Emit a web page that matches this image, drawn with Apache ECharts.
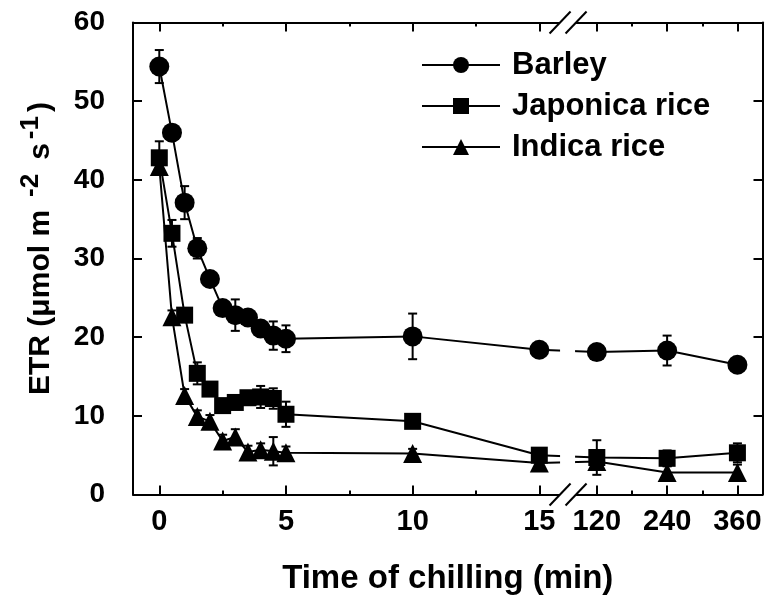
<!DOCTYPE html>
<html>
<head>
<meta charset="utf-8">
<script src="https://cdn.jsdelivr.net/npm/echarts@6/dist/echarts.min.js"></script>
<style>html,body{margin:0;padding:0;background:#fff}#c{width:769px;height:601px}</style>
</head>
<body>
<div id="c"></div>
<script>
// ---- data (time in minutes, ETR values) ----
const times = [0, 0.5, 1, 1.5, 2, 2.5, 3, 3.5, 4, 4.5, 5, 10, 15, 120, 240, 360];
const barley      = [54.4, 46.0, 37.1, 31.3, 27.4, 23.7, 22.8, 22.5, 21.1, 20.2, 19.8, 20.1, 18.4, 18.1, 18.3, 16.5];
const barleyErr   = [2.1, 0.8, 2.1, 1.3, 0.8, 0.8, 2.0, 0.8, 0.8, 1.8, 1.7, 2.9, 0.5, 0.5, 1.9, 0.5];
const japonica    = [42.8, 33.2, 22.8, 15.4, 13.4, 11.3, 11.7, 12.3, 12.4, 12.2, 10.2, 9.3, 5.0, 4.7, 4.6, 5.3];
const japonicaErr = [2.1, 1.7, 0.8, 1.4, 0.6, 0.6, 0.6, 0.8, 1.4, 1.3, 1.6, 0.6, 0.8, 2.2, 1.0, 1.2];
const indica      = [41.7, 22.6, 12.6, 9.9, 9.3, 6.8, 7.3, 5.4, 5.7, 5.5, 5.3, 5.2, 4.0, 4.2, 2.8, 2.8];
const indicaErr   = [1.0, 0.8, 0.8, 0.8, 0.8, 0.8, 1.0, 0.8, 0.8, 1.8, 0.8, 0.6, 0.6, 0.6, 0.8, 1.0];
const seriesNames = ['Barley', 'Japonica rice', 'Indica rice'];
const xTickTimes  = [0, 5, 10, 15, 120, 240, 360];
const xTickLabels = ['0', '5', '10', '15', '120', '240', '360'];
const xMinorTimes = [2.5, 7.5, 12.5, 180, 300];
const yTicks = [0, 10, 20, 30, 40, 50, 60];

// broken time axis: linear 0-15 min, then compressed segment 120-360 min
const SEG2_START = 17.27, SEG2_SCALE = 2.775 / 120;
function axisPos(t) { return t <= 15 ? t : SEG2_START + (t - 120) * SEG2_SCALE; }

const FONT = '"Liberation Sans", Arial, sans-serif';
const chart = echarts.init(document.getElementById('c'), null, {renderer: 'canvas'});

function lineData(vals) { return times.map((t, i) => [axisPos(t), vals[i]]); }
function errData(vals, errs) { return times.map((t, i) => [axisPos(t), vals[i] - errs[i], vals[i] + errs[i]]); }

function errSeries(vals, errs) {
  return {
    type: 'custom', z: 3, silent: true,
    data: errData(vals, errs),
    renderItem: function (params, api) {
      const x = api.value(0);
      const lo = api.coord([x, api.value(1)]);
      const hi = api.coord([x, api.value(2)]);
      const w = 4.5;
      const st = {stroke: '#000', lineWidth: 2};
      return {type: 'group', children: [
        {type: 'line', shape: {x1: lo[0], y1: lo[1], x2: hi[0], y2: hi[1]}, style: st},
        {type: 'line', shape: {x1: lo[0] - w, y1: lo[1], x2: lo[0] + w, y2: lo[1]}, style: st},
        {type: 'line', shape: {x1: hi[0] - w, y1: hi[1], x2: hi[0] + w, y2: hi[1]}, style: st}
      ]};
    }
  };
}
function lineSeries(name, vals, symbol, size) {
  return {
    name: name, type: 'line', data: lineData(vals), z: 4,
    symbol: symbol, symbolSize: size, showAllSymbol: true,
    lineStyle: {color: '#000', width: 2}, itemStyle: {color: '#000'},
    emphasis: {disabled: true}, animation: false
  };
}

const XMIN = -1.038, XMAX = 23.81;
const majorX = xTickTimes.map(axisPos);
const minorX = xMinorTimes.map(axisPos);
const baseX = {type: 'value', min: XMIN, max: XMAX, splitLine: {show: false}};
const AX_LINE = {show: true, onZero: false, lineStyle: {color: '#000', width: 2}};
const NO_LINE = {show: false, onZero: false};

const option = {
  animation: false,
  backgroundColor: '#fff',
  grid: {left: 133, right: 6.5, top: 22.5, bottom: 106.5},
  legend: {
    data: seriesNames, orient: 'vertical', left: 416, top: 43,
    itemWidth: 78, itemHeight: 20, itemGap: 7,
    textStyle: {fontFamily: FONT, fontWeight: 'bold', fontSize: 31, lineHeight: 34, color: '#000', padding: [0, 0, 0, 7]},
    selectedMode: false
  },
  xAxis: [
    Object.assign({}, baseX, {
      position: 'bottom', name: 'Time of chilling (min)', nameLocation: 'middle', nameGap: 68,
      nameTextStyle: {fontFamily: FONT, fontWeight: 'bold', fontSize: 33, color: '#000'},
      axisLine: AX_LINE,
      axisTick: {inside: true, length: 9, lineStyle: {width: 2, color: '#000'}, customValues: majorX},
      axisLabel: {customValues: majorX, margin: 13, fontFamily: FONT, fontWeight: 'bold', fontSize: 29, color: '#000',
        formatter: function (v) { const i = majorX.findIndex(m => Math.abs(m - v) < 1e-6); return i >= 0 ? xTickLabels[i] : ''; }}
    }),
    Object.assign({}, baseX, {
      position: 'top',
      axisLine: AX_LINE,
      axisTick: {inside: true, length: 9, lineStyle: {width: 2, color: '#000'}, customValues: majorX},
      axisLabel: {show: false}
    }),
    Object.assign({}, baseX, {
      position: 'bottom', axisLine: NO_LINE,
      axisTick: {inside: true, length: 4, lineStyle: {width: 2, color: '#000'}, customValues: minorX},
      axisLabel: {show: false}
    }),
    Object.assign({}, baseX, {
      position: 'top', axisLine: NO_LINE,
      axisTick: {inside: true, length: 4, lineStyle: {width: 2, color: '#000'}, customValues: minorX},
      axisLabel: {show: false}
    })
  ],
  yAxis: [
    {
      type: 'value', min: 0, max: 60, interval: 10, position: 'left',
      name: '{a|ETR (μmol m}{p|-2}{a|s}{q|-1}{a|)}', nameLocation: 'middle', nameRotate: 90, nameGap: 77,
      nameTextStyle: {
        padding: [0, 0, 0, 20],
        rich: {
          a: {fontFamily: FONT, fontWeight: 'bold', fontSize: 30, color: '#000', lineHeight: 38, verticalAlign: 'bottom'},
          p: {fontFamily: FONT, fontWeight: 'bold', fontSize: 26, color: '#000', lineHeight: 38, verticalAlign: 'top', padding: [0, 14, 0, 13]},
          q: {fontFamily: FONT, fontWeight: 'bold', fontSize: 26, color: '#000', lineHeight: 38, verticalAlign: 'top', padding: [0, 4, 0, 4]}
        }
      },
      splitLine: {show: false},
      axisLine: AX_LINE,
      axisTick: {show: true, inside: true, length: 9, lineStyle: {width: 2, color: '#000'}},
      axisLabel: {margin: 28, fontFamily: FONT, fontWeight: 'bold', fontSize: 28, color: '#000',
        formatter: function (v) { return yTicks.indexOf(v) >= 0 ? String(v) : ''; }}
    },
    {
      type: 'value', min: 0, max: 60, interval: 10, position: 'right',
      splitLine: {show: false},
      axisLine: AX_LINE,
      axisTick: {show: true, inside: true, length: 9, lineStyle: {width: 2, color: '#000'}},
      axisLabel: {show: false}
    }
  ],
  series: [
    errSeries(barley, barleyErr),
    errSeries(japonica, japonicaErr),
    errSeries(indica, indicaErr),
    lineSeries(seriesNames[0], barley, 'circle', 20),
    lineSeries(seriesNames[1], japonica, 'rect', 17),
    lineSeries(seriesNames[2], indica, 'triangle', 19)
  ]
};
chart.setOption(option);

// axis break decoration (computed from the axis scale)
const xb = chart.convertToPixel({xAxisIndex: 0}, (15 + SEG2_START) / 2);
const yTop = chart.convertToPixel({yAxisIndex: 0}, 60);
const yBot = chart.convertToPixel({yAxisIndex: 0}, 0);
const yHi = chart.convertToPixel({yAxisIndex: 0}, 25);
const yLo = chart.convertToPixel({yAxisIndex: 0}, 0.5);
function slashes(y) {
  return [-8, 8].map(function (d) {
    return {type: 'line', z: 200, shape: {x1: xb + d - 10.5, y1: y + 11, x2: xb + d + 10.5, y2: y - 11},
      style: {stroke: '#000', lineWidth: 2}};
  });
}
const gfx = [
  {type: 'rect', z: 150, shape: {x: xb - 8, y: yHi, width: 15, height: yLo - yHi}, style: {fill: '#fff'}},
  {type: 'rect', z: 150, shape: {x: xb - 8, y: yTop - 3, width: 16, height: 6}, style: {fill: '#fff'}},
  {type: 'rect', z: 150, shape: {x: xb - 8, y: yBot - 3, width: 16, height: 6}, style: {fill: '#fff'}}
].concat(slashes(yTop)).concat(slashes(yBot));
chart.setOption({graphic: gfx});
</script>
</body>
</html>
